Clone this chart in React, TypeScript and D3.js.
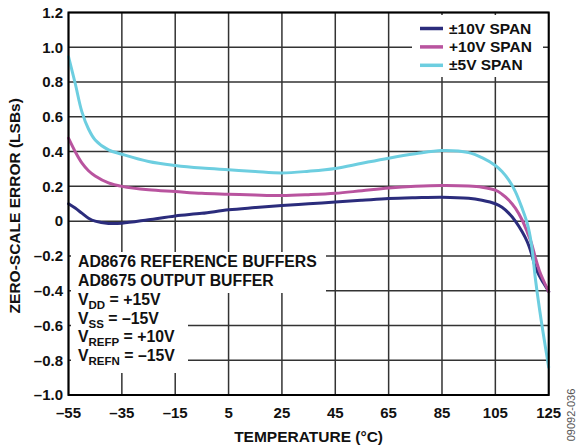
import React from "react";
import * as d3 from "d3";

const temps = [-55, -52.5, -50, -47.5, -45, -40, -35, -25, -15, -5, 5, 15, 25, 35, 45, 55, 65, 75, 85, 95, 100, 105, 107.5, 110, 112.5, 115, 117, 118.5, 120, 121.5, 123, 125];
const span10Bipolar = [0.1, 0.075, 0.046, 0.017, 0.0, -0.013, -0.012, 0.008, 0.03, 0.045, 0.065, 0.078, 0.09, 0.1, 0.11, 0.12, 0.13, 0.135, 0.138, 0.132, 0.12, 0.1, 0.08, 0.046, 0.0, -0.06, -0.12, -0.185, -0.265, -0.315, -0.355, -0.405];
const span10Unipolar = [0.477, 0.4, 0.335, 0.29, 0.26, 0.22, 0.2, 0.18, 0.17, 0.16, 0.155, 0.15, 0.147, 0.152, 0.16, 0.175, 0.19, 0.2, 0.205, 0.202, 0.195, 0.178, 0.155, 0.122, 0.075, 0.008, -0.065, -0.125, -0.21, -0.285, -0.34, -0.405];
const span5Bipolar = [0.946, 0.793, 0.63, 0.53, 0.467, 0.41, 0.385, 0.343, 0.32, 0.305, 0.295, 0.285, 0.277, 0.287, 0.303, 0.333, 0.362, 0.387, 0.406, 0.394, 0.365, 0.32, 0.285, 0.237, 0.17, 0.075, -0.015, -0.13, -0.33, -0.5, -0.65, -0.84];

const xTicks = [-55, -35, -15, 5, 25, 45, 65, 85, 105, 125];
const yTicks = [-1.0, -0.8, -0.6, -0.4, -0.2, 0, 0.2, 0.4, 0.6, 0.8, 1.0, 1.2];

const seriesNames = ["±10V SPAN", "+10V SPAN", "±5V SPAN"];
const seriesColors = ["#2b2c7c", "#b9549f", "#6dcee0"];
const seriesValues = [span10Bipolar, span10Unipolar, span5Bipolar];

const W = 577;
const H = 448;
const L = 68.5, R = 548.7, T = 12.5, B = 395;
const FONT = "'Liberation Sans', Arial, Helvetica, sans-serif";

const fmt = (v: number) => {
  const s = Math.abs(v) < 1e-9 ? "0" : Math.abs(v).toFixed(1);
  return v < -1e-9 ? "\u2013" + s : s;
};
const fmtX = (v: number) => (v < 0 ? "\u2013" + Math.abs(v) : String(v));

export default function App() {
  const x = d3.scaleLinear().domain([-55, 125]).range([L, R]);
  const y = d3.scaleLinear().domain([-1.0, 1.2]).range([B, T]);

  const line = d3
    .line<[number, number]>()
    .x((d) => x(d[0]))
    .y((d) => y(d[1]))
    .curve(d3.curveCatmullRom.alpha(0.5));

  const grid = "#333";

  return (
    <svg width={W} height={H} style={{ position: "absolute", left: 0, top: 0 }} fontFamily={FONT}>
      <rect x={0} y={0} width={W} height={H} fill="#fff" />
      {/* grid */}
      {xTicks.map((t) => (
        <line key={"gx" + t} x1={x(t)} x2={x(t)} y1={T} y2={B} stroke={grid} strokeWidth={1.5} />
      ))}
      {yTicks.map((t) => (
        <line key={"gy" + t} x1={L} x2={R} y1={y(t)} y2={y(t)} stroke={grid} strokeWidth={1.5} />
      ))}
      {/* curves */}
      {seriesValues.map((vals, i) => (
        <path
          key={"s" + i}
          d={line(temps.map((t, j) => [t, vals[j]] as [number, number])) || ""}
          fill="none"
          stroke={seriesColors[i]}
          strokeWidth={3}
          strokeLinejoin="round"
          strokeLinecap="round"
        />
      ))}
      {/* annotation backgrounds */}
      <rect x={71} y={252} width={255} height={41} fill="#fff" />
      <rect x={71} y={293} width={117} height={80} fill="#fff" />
      {/* legend background */}
      <rect x={412} y={15} width={131} height={62} fill="#fff" />
      {/* frame */}
      <rect x={L} y={T} width={R - L} height={B - T} fill="none" stroke="#000" strokeWidth={2} />
      {/* legend */}
      {seriesNames.map((n, i) => (
        <g key={"lg" + i}>
          <line x1={420} x2={443} y1={28.5 + i * 18.4} y2={28.5 + i * 18.4} stroke={seriesColors[i]} strokeWidth={3.5} />
          <text x={449} y={33.5 + i * 18.4} fontSize={15.5} fontWeight="bold" fill="#111">
            {n}
          </text>
        </g>
      ))}
      {/* annotation */}
      <g fontSize={15.8} fontWeight="bold" fill="#111">
        <text x={78} y={266.7}>AD8676 REFERENCE BUFFERS</text>
        <text x={78} y={285.7}>AD8675 OUTPUT BUFFER</text>
        <text x={78} y={305}>
          V<tspan fontSize={11.5} dy={4}>DD</tspan>
          <tspan dy={-4}> = +15V</tspan>
        </text>
        <text x={78} y={323.5}>
          V<tspan fontSize={11.5} dy={4}>SS</tspan>
          <tspan dy={-4}> = {"\u2013"}15V</tspan>
        </text>
        <text x={78} y={342.2}>
          V<tspan fontSize={11.5} dy={4}>REFP</tspan>
          <tspan dy={-4}> = +10V</tspan>
        </text>
        <text x={78} y={360.8}>
          V<tspan fontSize={11.5} dy={4}>REFN</tspan>
          <tspan dy={-4}> = {"\u2013"}15V</tspan>
        </text>
      </g>
      {/* y tick labels */}
      {yTicks.map((t) => (
        <text key={"yl" + t} x={63} y={y(t) + 5.3} textAnchor="end" fontSize={15} fontWeight="bold" fill="#111">
          {fmt(t)}
        </text>
      ))}
      {/* x tick labels */}
      {xTicks.map((t) => (
        <text key={"xl" + t} x={x(t)} y={418} textAnchor="middle" fontSize={15} fontWeight="bold" fill="#111">
          {fmtX(t)}
        </text>
      ))}
      {/* axis titles */}
      <text x={(L + R) / 2} y={442} textAnchor="middle" fontSize={15.5} fontWeight="bold" fill="#111">
        TEMPERATURE (°C)
      </text>
      <text
        transform={`translate(20, ${(T + B) / 2 + 2}) rotate(-90)`}
        textAnchor="middle"
        fontSize={15.5}
        fontWeight="bold"
        fill="#111"
      >
        ZERO-SCALE ERROR (LSBs)
      </text>
      <text transform="translate(575, 415) rotate(-90)" textAnchor="middle" fontSize={11} fill="#555">
        09092-036
      </text>
    </svg>
  );
}
